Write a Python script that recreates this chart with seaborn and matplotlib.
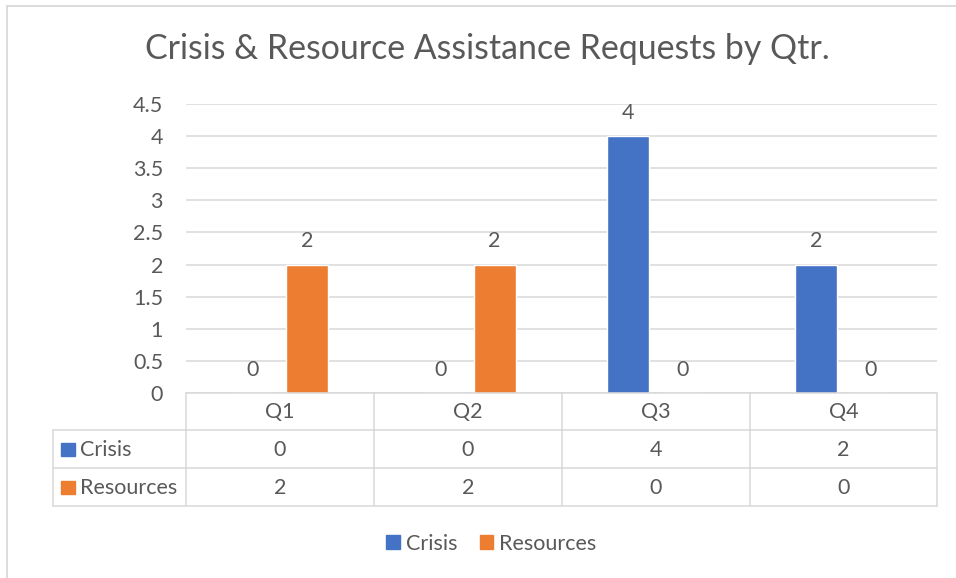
import matplotlib
matplotlib.use("Agg")
import matplotlib.pyplot as plt
import seaborn as sns
import pandas as pd
from matplotlib.lines import Line2D
from matplotlib.patches import Patch, Rectangle

# ---- data ----
quarters = ["Q1", "Q2", "Q3", "Q4"]
series_names = ["Crisis", "Resources"]
crisis = [0, 0, 4, 2]
resources = [2, 2, 0, 0]
y_ticks = [0, 0.5, 1, 1.5, 2, 2.5, 3, 3.5, 4, 4.5]
title = "Crisis & Resource Assistance Requests by Qtr."

colors = ["#4472C4", "#ED7D31"]
TXT = "#595959"
GRID = "#D9D9D9"
FONT = ["Lato", "DejaVu Sans"]
FS = 15.5

sns.set_theme(style="white")
plt.rcParams["font.family"] = FONT

W, H = 956, 578
fig = plt.figure(figsize=(W / 100, H / 100), dpi=100)
fig.patch.set_facecolor("white")


def fx(x):
    return x / W


def fy(y):
    return 1 - y / H


ax = fig.add_axes([fx(186), fy(393), fx(937) - fx(186), fy(104) - fy(393)])

df = pd.DataFrame({
    "Quarter": quarters * 2,
    "Series": [s for s in series_names for _ in quarters],
    "Value": crisis + resources,
})

sns.barplot(data=df, x="Quarter", y="Value", hue="Series", order=quarters,
            hue_order=series_names, palette=colors, width=0.575, gap=0.22,
            saturation=1, errorbar=None, legend=False, ax=ax)

ax.set_xlim(-0.5, 3.5)
ax.set_ylim(0, 4.5)
ax.set_yticks(y_ticks)
ax.set_yticklabels([f"{v:g}" for v in y_ticks])
ax.tick_params(axis="y", length=0, pad=16.5, labelsize=FS, labelcolor=TXT)
ax.set_xticks([])
ax.set_xlabel("")
ax.set_ylabel("")
ax.yaxis.grid(True, color=GRID, lw=1.1)
ax.set_axisbelow(True)
for sp in ax.spines.values():
    sp.set_visible(False)

for cont in ax.containers:
    ax.bar_label(cont, labels=[f"{v:g}" for v in cont.datavalues],
                 padding=9.5, color=TXT, fontsize=FS)

# ---- data table ----
def hline(y, x0, x1):
    fig.add_artist(Line2D([fx(x0), fx(x1)], [fy(y), fy(y)], color=GRID,
                          lw=1.1, transform=fig.transFigure))


def vline(x, y0, y1):
    fig.add_artist(Line2D([fx(x), fx(x)], [fy(y0), fy(y1)], color=GRID,
                          lw=1.1, transform=fig.transFigure))


col_edges = [186, 374, 562, 750, 937]
hline(393, 186, 937)
for y in [430, 468, 506]:
    hline(y, 53, 937)
for x in col_edges:
    vline(x, 393, 506)
vline(53, 430, 506)

col_centers = [(col_edges[i] + col_edges[i + 1]) / 2 for i in range(4)]
for q, cx in zip(quarters, col_centers):
    fig.text(fx(cx), fy(418), q, ha="center", va="baseline", fontsize=FS, color=TXT)

row_baselines = [456, 494]
row_tops = [443, 481]
for name, vals, col, yb, yt in zip(series_names, [crisis, resources], colors,
                                   row_baselines, row_tops):
    fig.add_artist(Rectangle((fx(61), fy(yt + 13)), fx(75) - fx(61), fy(yt) - fy(yt + 13),
                             transform=fig.transFigure, color=col))
    fig.text(fx(80), fy(yb), name, ha="left", va="baseline", fontsize=FS, color=TXT)
    for v, cx in zip(vals, col_centers):
        fig.text(fx(cx), fy(yb), f"{v:g}", ha="center", va="baseline", fontsize=FS, color=TXT)

# ---- legend ----
handles = [Patch(color=c, label=s) for c, s in zip(colors, series_names)]
fig.legend(handles=handles, loc="center", bbox_to_anchor=(fx(491.5), fy(543.5)),
           ncol=2, frameon=False, handlelength=0.62, handleheight=0.62,
           handletextpad=0.28, columnspacing=1.05, fontsize=FS, labelcolor=TXT,
           borderpad=0, borderaxespad=0)

# ---- title ----
fig.text(fx(487.5), fy(59), title, ha="center", va="baseline", fontsize=24.4, color=TXT)

# ---- chart border (top & left) ----
fig.add_artist(Line2D([fx(6.5), fx(956)], [fy(5.5), fy(5.5)], color=GRID, lw=1.3,
                      transform=fig.transFigure))
fig.add_artist(Line2D([fx(6.5), fx(6.5)], [fy(5.5), fy(578)], color=GRID, lw=1.3,
                      transform=fig.transFigure))

fig.savefig("out.png", dpi=100, facecolor="white")
